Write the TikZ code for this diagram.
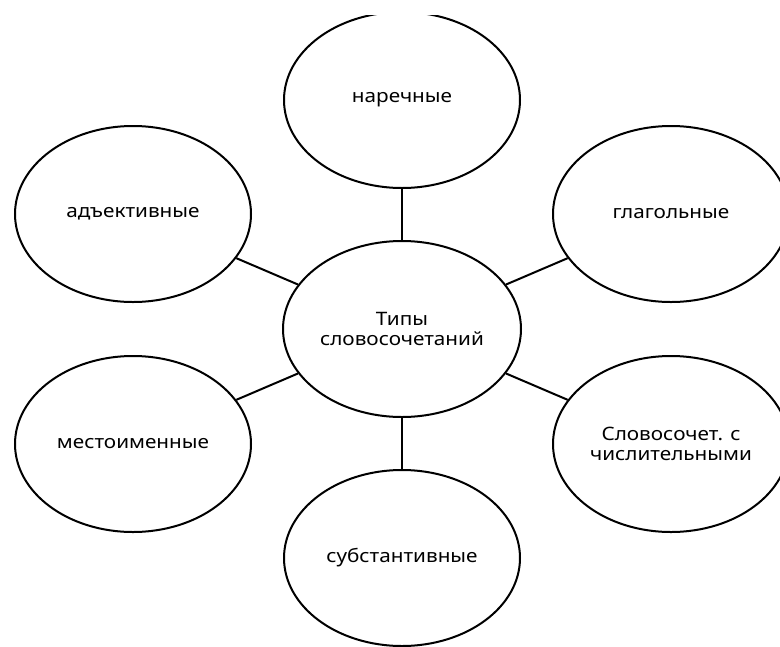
\documentclass[tikz,border=0pt]{standalone}
\usepackage{fontspec}
\setmainfont{Noto Sans}[FakeStretch=1.12]
\usepackage{tikz}
\usetikzlibrary{shapes.geometric}
\tikzset{
  bubble/.style={draw=black,ellipse,line width=2pt,inner sep=0pt,
                 minimum width=236pt,minimum height=176pt,align=center,
                 font=\fontsize{18.5}{20}\selectfont},
  hub/.style={bubble,minimum width=238pt},
  link/.style={draw=black,line width=2pt}
}
\begin{document}
\begin{tikzpicture}[x=1pt,y=-1pt]
    \useasboundingbox (0,0) rectangle (780,646);
    \clip (0,15) rectangle (780,646);
    \node[hub]    (types)     at (402,329) {Типы\\словосочетаний};
    \node[bubble] (adverbial) at (402,100) {наречные};
    \node[bubble] (verbal)    at (671,214) {глагольные};
    \node[bubble] (numeral)   at (671,444) {Словосочет. с\\числительными};
    \node[bubble] (nominal)   at (402,558) {субстантивные};
    \node[bubble] (pronominal) at (133,444) {местоименные};
    \node[bubble] (adjectival) at (133,214) {адъективные};
    \foreach \kind in {adverbial,verbal,numeral,nominal,pronominal,adjectival}
      \draw[link] (types) -- (\kind);
  \end{tikzpicture}
\end{document}
